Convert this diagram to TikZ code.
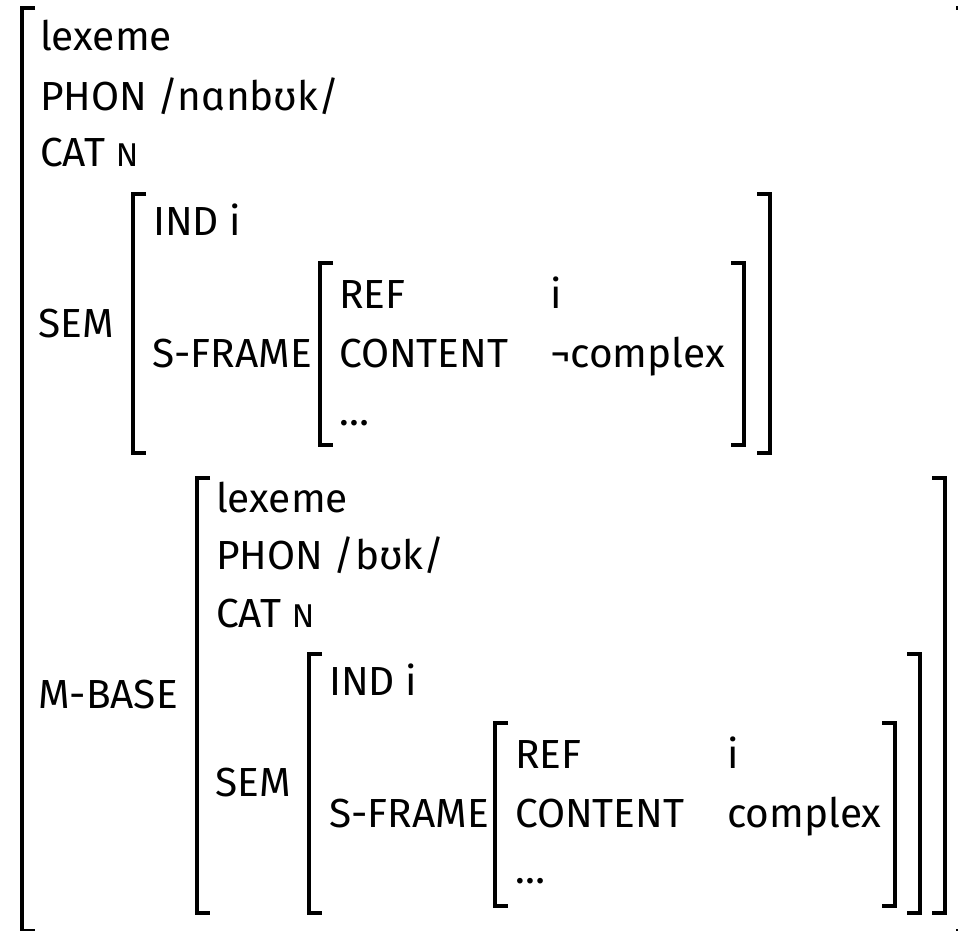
\documentclass[tikz,border=0pt]{standalone}
\usepackage{fontspec}
\setmainfont{Fira Sans}
\newcommand{\smN}{{\fontsize{33}{40}\selectfont N}}
\newcommand{\lbrk}[3]{\draw[brk] (#1+13,#2) -- (#1,#2) -- (#1,#3) -- (#1+13,#3);}
\newcommand{\rbrk}[3]{\draw[brk] (#1-13,#2) -- (#1,#2) -- (#1,#3) -- (#1-13,#3);}
\begin{document}
\begin{tikzpicture}[x=1pt,y=-1pt,
  t/.style={anchor=base west,inner sep=0pt,font=\fontsize{40.6}{48}\selectfont},
  brk/.style={line width=3.5pt}]
\useasboundingbox (0,0) rectangle (958,930);
% outer structure
\lbrk{22}{8}{931}
\rbrk{969}{8}{931}
\node[t] (lex1) at (40,50) {lexeme};
\node[t] (phon1) at (40,110) {PHON /nɑnbʊk/};
\node[t] (cat1) at (40,166) {CAT \smN};
\node[t] (sem1) at (38,337) {SEM};
\lbrk{133}{194}{453}
\rbrk{770}{194}{453}
\node[t] (ind1) at (153,235) {IND i};
\node[t] (sf1) at (152,367) {S-FRAME};
\lbrk{320}{263}{445}
\rbrk{744}{263}{445}
\node[t] (ref1) at (339,308) {REF};
\node[t] (refv1) at (550,308) {i};
\node[t] (cont1) at (339,367) {CONTENT};
\node[t] (contv1) at (550,367) {¬complex};
\node[t] (dots1) at (339,425) {…};
% M-BASE
\node[t] (mb) at (38,708) {M-BASE};
\lbrk{197}{478}{913}
\rbrk{945}{478}{913}
\node[t] (lex2) at (216,512) {lexeme};
\node[t] (phon2) at (216,569) {PHON /bʊk/};
\node[t] (cat2) at (216,627) {CAT \smN};
\node[t] (sem2) at (215,796) {SEM};
\lbrk{309}{654}{913}
\rbrk{920}{654}{913}
\node[t] (ind2) at (329,695) {IND i};
\node[t] (sf2) at (329,827) {S-FRAME};
\lbrk{495}{723}{906}
\rbrk{895}{723}{906}
\node[t] (ref2) at (515,768) {REF};
\node[t] (refv2) at (727,768) {i};
\node[t] (cont2) at (515,827) {CONTENT};
\node[t] (contv2) at (727,827) {complex};
\node[t] (dots2) at (515,883) {…};
\end{tikzpicture}
\end{document}
